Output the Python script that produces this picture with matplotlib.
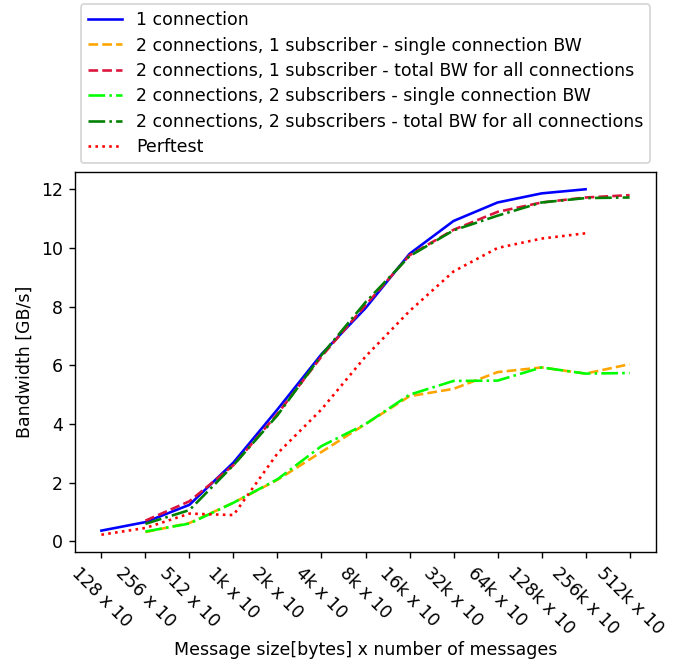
import matplotlib
matplotlib.use("Agg")
import matplotlib.pyplot as plt
import numpy as np

categories = ["128 x 10", "256 x 10", "512 x 10", "1k x 10", "2k x 10", "4k x 10",
              "8k x 10", "16k x 10", "32k x 10", "64k x 10", "128k x 10", "256k x 10", "512k x 10"]

one_conn = [0.37, 0.66, 1.25, 2.69, 4.5, 6.38, 7.95, 9.8, 10.92, 11.55, 11.86, 12.0]
perftest = [0.23, 0.46, 0.95, 0.9, 3.0, 4.5, 6.3, 7.85, 9.2, 10.0, 10.32, 10.5]
c2s1_single = [0.32, 0.63, 1.32, 2.1, 3.05, 4.0, 4.95, 5.2, 5.77, 5.93, 5.72, 6.04]
c2s1_total = [0.71, 1.37, 2.6, 4.35, 6.3, 8.05, 9.75, 10.62, 11.23, 11.55, 11.72, 11.8]
c2s2_single = [0.34, 0.61, 1.32, 2.12, 3.25, 4.0, 5.0, 5.47, 5.48, 5.93, 5.72, 5.74]
c2s2_total = [0.6, 1.07, 2.6, 4.3, 6.35, 8.15, 9.72, 10.6, 11.1, 11.55, 11.7, 11.72]

dpi = 125
fig = plt.figure(figsize=(674 / dpi, 664 / dpi), dpi=dpi)
ax = fig.add_axes([75 / 674, 1 - 552 / 664, (656 - 75) / 674, (552 - 172) / 664])

x_all = np.arange(len(categories))
ax.plot(x_all[:len(one_conn)], one_conn, color="blue", linestyle="-", label="1 connection")
ax.plot(x_all[1:1 + len(c2s1_single)], c2s1_single, color="orange", linestyle="--",
        label="2 connections, 1 subscriber - single connection BW")
ax.plot(x_all[1:1 + len(c2s1_total)], c2s1_total, color="crimson", linestyle="--",
        label="2 connections, 1 subscriber - total BW for all connections")
ax.plot(x_all[1:1 + len(c2s2_single)], c2s2_single, color="lime", linestyle="-.",
        label="2 connections, 2 subscribers - single connection BW")
ax.plot(x_all[1:1 + len(c2s2_total)], c2s2_total, color="green", linestyle="-.",
        label="2 connections, 2 subscribers - total BW for all connections")
ax.plot(x_all[:len(perftest)], perftest, color="red", linestyle=":", label="Perftest")

ax.set_xticks(x_all)
ax.set_xticklabels(categories, rotation=-45)
ax.set_xlabel("Message size[bytes] x number of messages", labelpad=1.5)
ax.set_ylabel("Bandwidth [GB/s]")
ax.legend(loc="lower center", bbox_to_anchor=(0.5, 1.0), labelspacing=0.43)

fig.savefig("out.png", dpi=dpi)
